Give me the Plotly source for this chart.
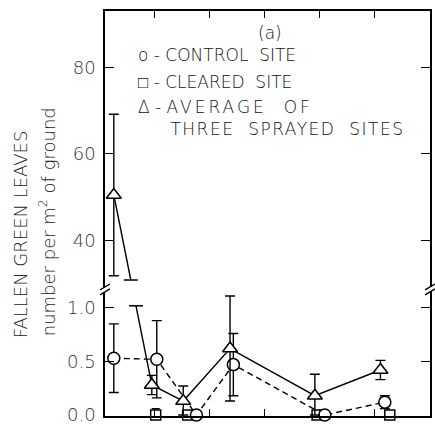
import numpy as np
import plotly.graph_objects as go

# Sampling position along the time axis, mean count per m² of ground, and error half-range
control_x = [0.26, 1.04, 1.76, 2.43, 4.09, 5.18]
control_y = [0.53, 0.52, 0.00, 0.47, 0.00, 0.12]
control_err = [0.32, 0.36, 0.00, 0.29, 0.00, 0.06]

cleared_x = [1.02, 1.60, 3.95, 5.27]
cleared_y = [0.00, 0.00, 0.00, 0.00]
cleared_err = [0.06, 0.00, 0.00, 0.00]

sprayed_x = [0.26, 0.95, 1.52, 2.37, 3.91, 5.10]
sprayed_y = [50.5, 0.28, 0.13, 0.62, 0.18, 0.42]
sprayed_err = [18.7, 0.09, 0.14, 0.49, 0.20, 0.09]

y_tick_values = [0.0, 0.5, 1.0, 40, 60, 80]
y_tick_labels = ["0.0", "0.5", "1.0", "40", "60", "80"]
x_tick_values = [1, 2, 3, 4, 5]

# Broken y axis: the 0-1 band and the 30-90 band share one display scale
LOW_SCALE = 108.0
HIGH_SCALE = 4.35
HIGH_ANCHOR = 40.0
HIGH_OFFSET = 176.0
AXIS_BREAK = (124.0, 129.0)
LINE_BREAK = (110.0, 136.0)
Y_BOTTOM = -1.0
Y_TOP = 407.0


def to_display(v):
    v = np.asarray(v, dtype=float)
    return np.where(v <= 5, v * LOW_SCALE, HIGH_OFFSET + (v - HIGH_ANCHOR) * HIGH_SCALE)


def error_arrays(y, err):
    y = np.asarray(y, float)
    err = np.asarray(err, float)
    d = to_display(y)
    up = to_display(y + err) - d
    down = d - to_display(np.maximum(y - err, 0.0))
    return d, up, down


PLOT_L, PLOT_R, PLOT_T, PLOT_B = 105, 3, 11, 8
W, H = 435, 428
PW = W - PLOT_L - PLOT_R
PH = H - PLOT_T - PLOT_B


def paper_x(px):
    return (px - PLOT_L) / PW


def paper_y(py):
    return (H - PLOT_B - py) / PH


fig = go.Figure()

# Sprayed-site mean: solid line interrupted where it crosses the axis break
s_d, s_up, s_down = error_arrays(sprayed_y, sprayed_err)
sx = np.asarray(sprayed_x, float)


def crossing(level):
    t = (s_d[0] - level) / (s_d[0] - s_d[1])
    return sx[0] + t * (sx[1] - sx[0])


xa, xb = crossing(LINE_BREAK[1]), crossing(LINE_BREAK[0])
line_style = dict(color="black", width=1.4)
fig.add_trace(go.Scatter(x=[sx[0], xa], y=[s_d[0], LINE_BREAK[1]], mode="lines",
                         line=line_style, hoverinfo="skip", showlegend=False))
fig.add_trace(go.Scatter(x=np.concatenate([[xb], sx[1:]]),
                         y=np.concatenate([[LINE_BREAK[0]], s_d[1:]]),
                         mode="lines", line=line_style, hoverinfo="skip", showlegend=False))
fig.add_trace(go.Scatter(x=[xa, xb], y=list(LINE_BREAK[::-1]), mode="markers",
                         marker=dict(symbol="line-ew", size=10,
                                     line=dict(color="black", width=1.5)),
                         hoverinfo="skip", showlegend=False, cliponaxis=False))

# Control site: dashed line
c_d, c_up, c_down = error_arrays(control_y, control_err)
fig.add_trace(go.Scatter(x=control_x, y=c_d, mode="lines",
                         line=dict(color="black", width=1.4, dash="6px,4px"),
                         hoverinfo="skip", showlegend=False))

# Cleared site markers
k_d, k_up, k_down = error_arrays(cleared_y, cleared_err)
fig.add_trace(go.Scatter(
    x=cleared_x, y=k_d, mode="markers", cliponaxis=False,
    error_y=dict(type="data", array=k_up, arrayminus=k_down, color="black",
                 thickness=1.4, width=4),
    marker=dict(symbol="square", size=10, color="white",
                line=dict(color="black", width=1.5)),
    name="CLEARED SITE", showlegend=False))

# Control markers
fig.add_trace(go.Scatter(
    x=control_x, y=c_d, mode="markers", cliponaxis=False,
    error_y=dict(type="data", array=c_up, arrayminus=c_down, color="black",
                 thickness=1.4, width=5),
    marker=dict(symbol="circle", size=12, color="white",
                line=dict(color="black", width=1.5)),
    name="CONTROL SITE", showlegend=False))

# Sprayed markers
fig.add_trace(go.Scatter(
    x=sprayed_x, y=s_d, mode="markers", cliponaxis=False,
    error_y=dict(type="data", array=s_up, arrayminus=s_down, color="black",
                 thickness=1.4, width=5),
    marker=dict(symbol="triangle-up", size=13, color="white",
                line=dict(color="black", width=1.5)),
    name="AVERAGE OF THREE SPRAYED SITES", showlegend=False))

# Axis break marks on both vertical axes
shapes = []
dx = 6 / PW
for ax_x in (0.0, 1.0):
    shapes.append(dict(type="rect", xref="paper", yref="y", x0=ax_x - dx, x1=ax_x + dx,
                       y0=AXIS_BREAK[0], y1=AXIS_BREAK[1], fillcolor="white",
                       line=dict(width=0), layer="above"))
    for lvl in AXIS_BREAK:
        shapes.append(dict(type="line", xref="paper", yref="y",
                           x0=ax_x - 5 / PW, x1=ax_x + 5 / PW, y0=lvl - 3, y1=lvl + 3,
                           line=dict(color="black", width=1.4), layer="above"))

FONT = "DejaVu Sans, Liberation Sans, sans-serif"
text_color = "#111"
label_font = dict(size=17, color=text_color, family=FONT, weight=200)
sp2 = "&nbsp;&nbsp;"
indent = "&nbsp;" * 6
annotations = [
    dict(text="(a)", x=paper_x(271), y=paper_y(33), xanchor="center", yanchor="middle",
         font=label_font),
    dict(text=f"o - CONTROL{sp2}SITE", x=paper_x(136), y=paper_y(55), xanchor="left",
         yanchor="middle", font=label_font),
    dict(text=f"□ - CLEARED{sp2}SITE", x=paper_x(136),
         y=paper_y(83), xanchor="left", yanchor="middle", font=label_font),
    dict(text=(f"Δ - <span style='letter-spacing:3px'>AVERAGE{sp2}OF</span><br>"
               f"{indent}<span style='letter-spacing:1.5px'>THREE{sp2}SPRAYED{sp2}SITES</span>"),
         x=paper_x(136), y=paper_y(119), xanchor="left", yanchor="middle",
         align="left", font=label_font),
    dict(text="FALLEN GREEN LEAVES", x=paper_x(20), y=paper_y(237), xanchor="center",
         yanchor="middle", textangle=-90,
         font=dict(size=18, color="#222", family=FONT, weight=200)),
    dict(text="number per m<sup>2</sup> of ground", x=paper_x(47), y=paper_y(224),
         xanchor="center", yanchor="middle", textangle=-90,
         font=dict(size=18, color="#222", family=FONT, weight=200)),
]
for a in annotations:
    a.update(xref="paper", yref="paper", showarrow=False)

fig.update_layout(
    width=W, height=H,
    margin=dict(l=PLOT_L, r=PLOT_R, t=PLOT_T, b=PLOT_B),
    paper_bgcolor="white", plot_bgcolor="white",
    showlegend=False,
    shapes=shapes,
    annotations=annotations,
    xaxis=dict(range=[0.1, 6.0], showline=True, mirror="ticks", linecolor="black",
               linewidth=1.5, ticks="inside", ticklen=7, tickwidth=1.3, tickcolor="black",
               tickvals=x_tick_values, showticklabels=False, showgrid=False,
               zeroline=False, fixedrange=True),
    yaxis=dict(range=[Y_BOTTOM, Y_TOP], showline=True, mirror="ticks", linecolor="black",
               linewidth=1.5, ticks="inside", ticklen=9, tickwidth=1.3, tickcolor="black",
               tickvals=to_display(y_tick_values).tolist(), ticktext=y_tick_labels,
               tickfont=dict(size=18, color="#333", family=FONT, weight=200),
               ticklabeloverflow="allow",
               ticklabelstandoff=4, showgrid=False, zeroline=False, fixedrange=True),
)

fig.write_html("out.html")
